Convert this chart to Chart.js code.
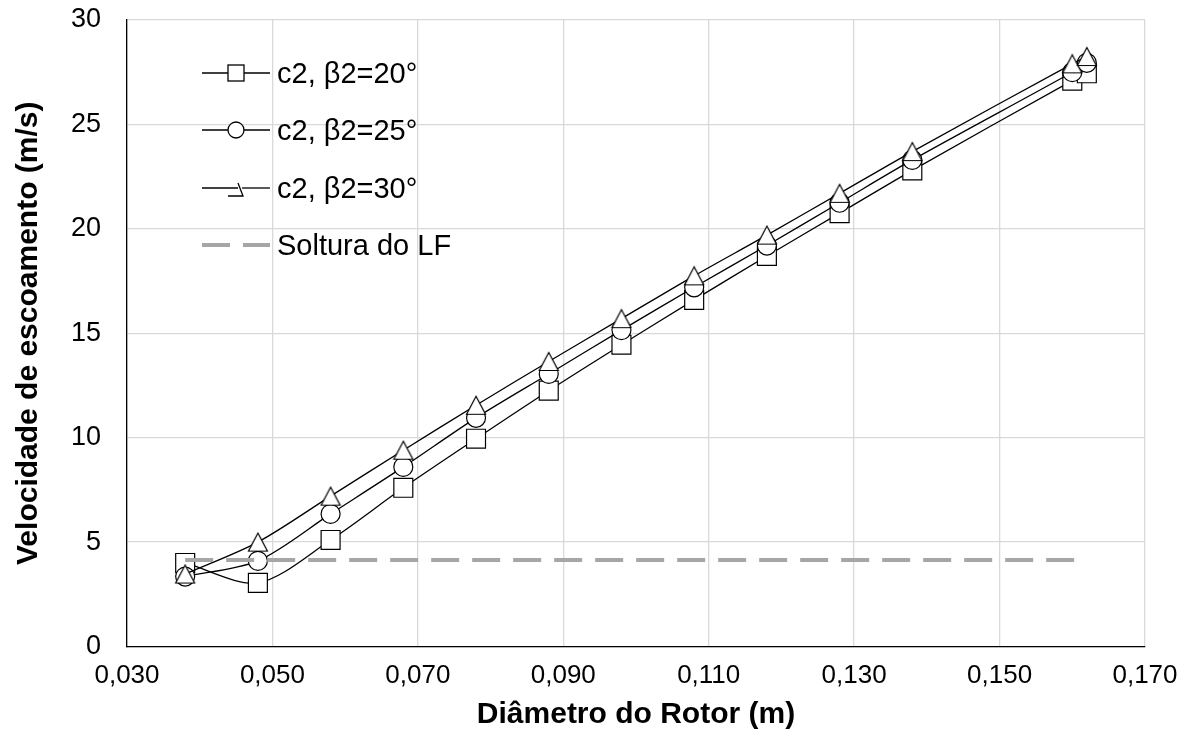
<!DOCTYPE html>
<html>
<head>
<meta charset="utf-8">
<script src="https://cdn.jsdelivr.net/npm/chart.js@4/dist/chart.umd.min.js"></script>
<style>
  html, body { margin: 0; padding: 0; background: #fff; }
  #wrap { position: relative; width: 1192px; height: 740px; }
  #legend { position: absolute; left: 200px; top: 0; font-family: "Liberation Sans", Arial, sans-serif; font-size: 29px; color: #000; }
  .item { position: absolute; left: 0; height: 40px; width: 300px; white-space: nowrap; }
  .item svg { position: absolute; left: 0; top: 0; }
  .item span { position: absolute; left: 77px; top: 0; line-height: 40px; }
</style>
</head>
<body>
<div id="wrap">
  <canvas id="chart" width="1192" height="740"></canvas>
  <div id="legend">
    <div class="item" style="top:53px">
      <svg width="72" height="40"><line x1="2" y1="20" x2="70" y2="20" stroke="#000" stroke-width="1.3"/><rect x="28" y="12" width="16" height="16" fill="#fff" stroke="#000" stroke-width="1.3"/></svg>
      <span>c2, β2=20°</span>
    </div>
    <div class="item" style="top:110px">
      <svg width="72" height="40"><line x1="2" y1="20" x2="70" y2="20" stroke="#000" stroke-width="1.3"/><circle cx="36" cy="20" r="8" fill="#fff" stroke="#000" stroke-width="1.3"/></svg>
      <span>c2, β2=25°</span>
    </div>
    <div class="item" style="top:168px">
      <svg width="72" height="40"><polyline points="2,20 38,20" fill="none" stroke="#000" stroke-width="1.3"/><polyline points="28,28 43,28 38,15" fill="none" stroke="#000" stroke-width="1.3"/><polyline points="42,20 70,20" fill="none" stroke="#000" stroke-width="1.3"/></svg>
      <span>c2, β2=30°</span>
    </div>
    <div class="item" style="top:225px">
      <svg width="72" height="40"><line x1="2" y1="20" x2="70" y2="20" stroke="#a6a6a6" stroke-width="4" stroke-dasharray="28 13"/></svg>
      <span>Soltura do LF</span>
    </div>
  </div>
</div>
<script>
// diametro do rotor (m)
const diameters = [0.038, 0.048, 0.058, 0.068, 0.078, 0.088, 0.098, 0.108, 0.118, 0.128, 0.138, 0.160, 0.162];
// velocidade c2 (m/s) for each beta2
const c2beta20 = [4.0, 3.05, 5.1, 7.6, 9.95, 12.25, 14.45, 16.6, 18.7, 20.75, 22.8, 27.1, 27.45];
const c2beta25 = [3.35, 4.1, 6.35, 8.6, 10.95, 13.05, 15.15, 17.2, 19.2, 21.25, 23.3, 27.5, 27.95];
const c2beta30 = [3.47, 5.0, 7.2, 9.4, 11.55, 13.65, 15.7, 17.75, 19.7, 21.7, 23.7, 27.9, 28.25];
// soltura do LF
const lfX = [0.038, 0.162];
const lfY = [4.14, 4.14];

const xTicks = [0.03, 0.05, 0.07, 0.09, 0.11, 0.13, 0.15, 0.17];

const FONT = '"Liberation Sans", Arial, sans-serif';
Chart.defaults.font.family = FONT;
Chart.defaults.color = '#000';

function toPoints(xs, ys) {
  return xs.map((x, i) => ({ x: x, y: ys[i] }));
}

// excel style triangle, centred on its bounding box
function triangleMarker() {
  const c = document.createElement('canvas');
  c.width = 22; c.height = 21;
  const g = c.getContext('2d');
  g.beginPath();
  g.moveTo(11, 1.5);
  g.lineTo(20.5, 19.5);
  g.lineTo(1.5, 19.5);
  g.closePath();
  g.fillStyle = '#fff';
  g.fill();
  g.strokeStyle = '#000';
  g.lineWidth = 1.2;
  g.stroke();
  return c;
}

const seriesStyle = {
  borderColor: '#000',
  borderWidth: 1.3,
  tension: 0.3,
  pointBackgroundColor: '#fff',
  pointBorderColor: '#000',
  pointBorderWidth: 1.2,
  fill: false
};

var ctx = document.getElementById('chart').getContext('2d');
var chart = new Chart(ctx, {
  type: 'line',
  data: {
    datasets: [
      Object.assign({ label: 'c2, β2=20°', data: toPoints(diameters, c2beta20), pointStyle: 'rect', pointRadius: 13.4, order: 3 }, seriesStyle),
      Object.assign({ label: 'c2, β2=25°', data: toPoints(diameters, c2beta25), pointStyle: 'circle', pointRadius: 9.5, order: 2 }, seriesStyle),
      Object.assign({ label: 'c2, β2=30°', data: toPoints(diameters, c2beta30), pointStyle: triangleMarker(), pointRadius: 10, order: 1 }, seriesStyle),
      {
        label: 'Soltura do LF',
        data: toPoints(lfX, lfY),
        borderColor: '#a6a6a6',
        borderWidth: 4,
        borderDash: [28, 13],
        pointRadius: 0,
        tension: 0,
        fill: false,
        order: 0
      }
    ]
  },
  options: {
    responsive: false,
    animation: false,
    layout: { padding: { top: 0, right: 47, left: 0, bottom: 0 } },
    plugins: {
      legend: { display: false },
      tooltip: { enabled: false }
    },
    scales: {
      x: {
        type: 'linear',
        min: 0.03,
        max: 0.17,
        afterBuildTicks: s => { s.ticks = xTicks.map(v => ({ value: v })); },
        afterFit: s => { s.height = 93.5; },
        ticks: {
          callback: v => v.toFixed(3).replace('.', ','),
          font: { size: 26 },
          color: '#000',
          padding: 14,
          maxRotation: 0
        },
        grid: { color: '#d9d9d9', lineWidth: 1.3, drawTicks: false },
        border: { color: '#000', width: 1.3 },
        title: {
          display: true,
          text: 'Diâmetro do Rotor (m)',
          font: { size: 30, weight: 'bold' },
          color: '#000',
          padding: { top: 0, bottom: 7 }
        }
      },
      y: {
        min: 0,
        max: 30,
        // keep the plot top at the same place as the picture
        afterFit: s => { s.width = 127; s.paddingTop = 20; s.paddingBottom = 20; },
        ticks: { stepSize: 5, font: { size: 27 }, color: '#000', padding: 26 },
        grid: { color: '#d9d9d9', lineWidth: 1.3, drawTicks: false },
        border: { color: '#000', width: 1.3 },
        title: {
          display: true,
          text: 'Velocidade de escoamento (m/s)',
          font: { size: 30, weight: 'bold' },
          color: '#000',
          padding: { top: 11, bottom: 0 }
        }
      }
    }
  }
});
</script>
</body>
</html>
